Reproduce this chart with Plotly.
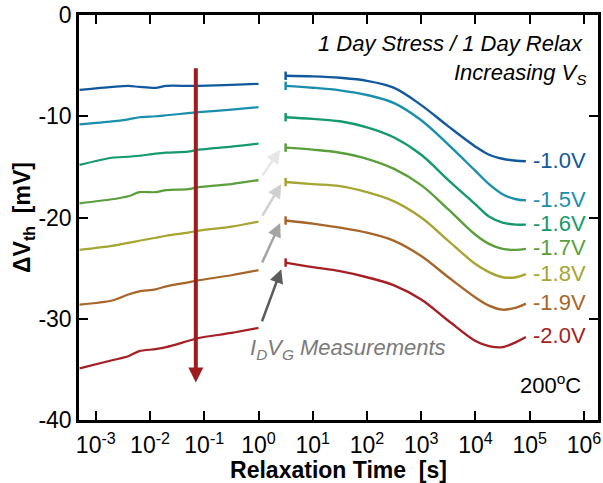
import plotly.graph_objects as go

# Stress voltages and their line colours
labels = ["-1.0V", "-1.5V", "-1.6V", "-1.7V", "-1.8V", "-1.9V", "-2.0V"]
colors = ["#11589e", "#1a8fab", "#159a6c", "#5b9f3d", "#a6a533", "#a8652a", "#a51f24"]

# During-stress trace: log10(time) and threshold shift [mV]
stress_logt = [-3.3, -2.7, -2.4, -2.2, -1.9, -1.7, -1.3, -1.1, -0.5, 0.0]
stress_dvth = [
    [-7.4, -7.1, -7.0, -7.1, -7.2, -7.0, -7.0, -7.0, -6.9, -6.8],
    [-10.8, -10.5, -10.3, -10.1, -10.0, -9.9, -9.7, -9.6, -9.35, -9.1],
    [-14.8, -14.1, -14.0, -13.9, -13.7, -13.6, -13.5, -13.3, -13.0, -12.7],
    [-18.6, -18.2, -17.9, -17.5, -17.5, -17.3, -17.2, -17.0, -16.7, -16.3],
    [-23.2, -22.8, -22.5, -22.3, -22.0, -21.8, -21.5, -21.3, -20.9, -20.4],
    [-28.6, -28.2, -27.6, -27.3, -27.1, -26.8, -26.4, -26.2, -25.7, -25.2],
    [-34.9, -34.1, -33.7, -33.2, -33.0, -32.8, -32.2, -31.9, -31.4, -30.9],
]

# Relaxation trace: log10(time) and threshold shift [mV]
relax_logt = [0.5, 1.0, 1.5, 2.0, 2.5, 3.0, 3.5, 4.0, 4.25, 4.5, 4.75, 4.93]
relax_dvth = [
    [-6.0, -6.06, -6.2, -6.5, -7.2, -8.9, -11.0, -13.0, -13.8, -14.2, -14.4, -14.45],
    [-7.0, -7.18, -7.44, -7.9, -8.7, -10.4, -12.8, -15.4, -16.7, -17.7, -18.2, -18.3],
    [-10.1, -10.26, -10.5, -11.1, -12.1, -13.8, -16.3, -18.7, -19.9, -20.5, -20.7, -20.7],
    [-13.1, -13.3, -13.6, -14.2, -15.2, -16.8, -19.2, -21.7, -22.6, -23.1, -23.2, -23.1],
    [-16.5, -16.7, -16.9, -17.5, -18.4, -20.0, -22.3, -24.6, -25.4, -25.9, -25.9, -25.6],
    [-20.3, -20.6, -21.0, -21.5, -22.3, -23.8, -25.9, -27.9, -28.7, -29.1, -28.9, -28.5],
    [-24.45, -24.9, -25.3, -25.9, -26.7, -28.1, -30.2, -32.2, -32.7, -32.8, -32.3, -31.8],
]

xtick_exps = [-3, -2, -1, 0, 1, 2, 3, 4, 5, 6]
ytick_vals = [0, -10, -20, -30, -40]

FONT = "Liberation Sans, Arial, Helvetica, sans-serif"
TXT = 22
TICK = 23

fig = go.Figure()
for lab, col, s_y, r_y in zip(labels, colors, stress_dvth, relax_dvth):
    fig.add_trace(go.Scatter(
        x=[10 ** v for v in stress_logt], y=s_y, mode="lines",
        line=dict(color=col, width=2.2, shape="spline", smoothing=0.8),
        showlegend=False, hoverinfo="skip"))
    fig.add_trace(go.Scatter(
        x=[10 ** v for v in relax_logt], y=r_y, mode="lines",
        line=dict(color=col, width=2.4, shape="spline", smoothing=1.0),
        showlegend=False, hoverinfo="skip"))
    # short vertical tick where the relaxation record starts
    fig.add_trace(go.Scatter(
        x=[10 ** relax_logt[0]], y=[r_y[0]], mode="markers",
        marker=dict(symbol="line-ns", size=6, line=dict(color=col, width=2.5)),
        showlegend=False, hoverinfo="skip"))
    fig.add_annotation(
        x=5.03, y=r_y[-1], xref="x", yref="y", text=lab, showarrow=False,
        xanchor="left", yanchor="middle", yshift=1,
        font=dict(family=FONT, size=TXT, color=col))

# measurement-gap arrows (light to dark)
gap_arrows = [
    ("#e6e6e6", 0.055, -16.0, 0.40, -13.3),
    ("#cfcfcf", 0.055, -19.96, 0.42, -16.7),
    ("#a4a4a4", 0.055, -24.6, 0.40, -20.55),
    ("#5c5c5c", 0.055, -30.4, 0.42, -25.1),
]
for col, x0, y0, x1, y1 in gap_arrows:
    fig.add_annotation(
        x=x1, y=y1, ax=x0, ay=y0, xref="x", yref="y", axref="x", ayref="y",
        text="", showarrow=True, arrowhead=2, arrowsize=1.1, arrowwidth=2.5,
        arrowcolor=col, standoff=0)

# increasing stress voltage arrow
fig.add_annotation(
    x=-1.156, y=-36.3, ax=-1.156, ay=-5.1, xref="x", yref="y", axref="x", ayref="y",
    text="", showarrow=True, arrowhead=2, arrowsize=0.75, arrowwidth=4,
    arrowcolor="#9e1b1e", standoff=0)

fig.add_annotation(
    x=0.975, y=0.930, xref="paper", yref="paper", xanchor="right", yanchor="middle",
    text="<i>1 Day Stress / 1 Day Relax</i>", showarrow=False,
    font=dict(family=FONT, size=TXT, color="black"))
fig.add_annotation(
    x=0.982, y=0.855, xref="paper", yref="paper", xanchor="right", yanchor="middle",
    text="<i>Increasing V<sub>S</sub></i>", showarrow=False,
    font=dict(family=FONT, size=TXT, color="black"))
fig.add_annotation(
    x=0.972, y=0.088, xref="paper", yref="paper", xanchor="right", yanchor="middle",
    text="200<sup>o</sup>C", showarrow=False,
    font=dict(family=FONT, size=TXT, color="black"))
fig.add_annotation(
    x=0.326, y=0.175, xref="paper", yref="paper", xanchor="left", yanchor="middle",
    text="<i>I<sub>D</sub>V<sub>G</sub> Measurements</i>", showarrow=False,
    font=dict(family=FONT, size=TXT, color="#7a7a7a"))

fig.update_xaxes(
    type="log", range=[-3.31, 6.26],
    tickvals=[10 ** e for e in xtick_exps],
    ticktext=["10<sup>%d</sup>" % e for e in xtick_exps],
    ticks="inside", ticklen=9, tickwidth=2, tickcolor="black",
    showline=True, linecolor="black", linewidth=2.5, mirror="ticks",
    showgrid=False, zeroline=False, ticklabelstandoff=3,
    tickfont=dict(family=FONT, size=TICK, color="black"),
    title=dict(text="<b>Relaxation Time  [s]</b>", standoff=0,
               font=dict(family=FONT, size=23, color="black")))
fig.update_yaxes(
    range=[-40, 0], tickvals=ytick_vals, ticktext=[str(v) for v in ytick_vals],
    ticks="inside", ticklen=9, tickwidth=2, tickcolor="black",
    showline=True, linecolor="black", linewidth=2.5, mirror="ticks",
    showgrid=False, zeroline=False,
    tickfont=dict(family=FONT, size=TICK, color="black"),
    title=dict(text="<b>ΔV<sub>th</sub>  [mV]</b>", standoff=2,
               font=dict(family=FONT, size=23, color="black")))

fig.update_layout(
    width=603, height=483,
    margin=dict(l=79, r=2, t=13, b=63),
    paper_bgcolor="white", plot_bgcolor="white",
)

fig.write_html("out.html")
